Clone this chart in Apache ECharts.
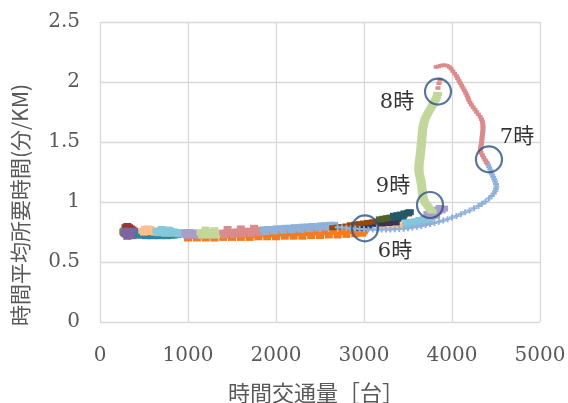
<!DOCTYPE html>
<html><head><meta charset="utf-8">
<script src="https://cdn.jsdelivr.net/npm/echarts@6/dist/echarts.min.js"></script>
<style>html,body{margin:0;padding:0;background:#fff}#c{width:568px;height:403px}</style>
</head><body><div id="c"></div>
<script>
// ---- tick settings ----
const xTicks = {min: 0, max: 5000, interval: 1000};
const yTicks = {min: 0, max: 2.5, interval: 0.5};
const xTitle = '時間交通量［台］';
const yTitle = '時間平均所要時間(分/KM)';

// ---- series values [traffic volume, travel time] ----
const darkRed = [[290,0.79],[310,0.80],[330,0.79],[350,0.78],[300,0.77],[340,0.76],[370,0.77]];
const olive = [[265,0.75],[280,0.74],[270,0.76],[290,0.73]];
const purple = [[275,0.74],[300,0.73],[325,0.74],[350,0.73],[380,0.74],[410,0.73],[440,0.74],[290,0.76],[340,0.76],[390,0.76],[310,0.71],[370,0.715],[420,0.72]];
const teal = [[440,0.725],[480,0.72],[520,0.715],[560,0.72],[600,0.715],[640,0.72],[680,0.715],[720,0.72],[760,0.715],[800,0.72],[840,0.72],[880,0.725],[910,0.73],[460,0.745],[500,0.74]];
const peach = [[480,0.76],[510,0.775],[540,0.78],[570,0.775],[600,0.765],[630,0.76],[500,0.745],[560,0.75],[620,0.745]];
const cyan = [[640,0.76],[680,0.755],[720,0.76],[760,0.755],[800,0.76],[840,0.755],[880,0.75],[920,0.75],[960,0.745],[660,0.74],[740,0.735],[820,0.735],[900,0.73],[700,0.775],[780,0.77]];
const lavender = [[970,0.745],[1010,0.75],[1050,0.745],[1090,0.745],[1130,0.74],[990,0.72],[1050,0.72],[1110,0.72]];
const orange = [[1000,0.70],[1100,0.70],[1200,0.70],[1300,0.70],[1400,0.705],[1500,0.705],[1600,0.705],[1700,0.705],[1800,0.71],[1900,0.71],[2000,0.71],[2100,0.715],[2200,0.715],[2300,0.715],[2400,0.72],[2500,0.72],[2600,0.725],[2700,0.725],[2800,0.73],[2900,0.735],[2980,0.74],
  [1050,0.72],[1150,0.72],[1250,0.72],[1350,0.725],[1450,0.725],[1550,0.73],[1650,0.73],[1750,0.73],[1850,0.735],[1950,0.735],[2050,0.74],[2150,0.74],[2250,0.745],[2350,0.745],[2450,0.75],[2550,0.75],[2650,0.755],[2750,0.755],[2850,0.76],[2950,0.765],[3000,0.76]];
const lightGreen = [[1140,0.745],[1180,0.75],[1220,0.75],[1260,0.745],[1300,0.745],[1340,0.74],[1380,0.74],[1160,0.72],[1240,0.72],[1320,0.72],[1200,0.77],[1300,0.765]];
const pink = [[1400,0.745],[1450,0.75],[1500,0.75],[1550,0.755],[1600,0.755],[1650,0.76],[1700,0.76],[1750,0.765],[1800,0.765],[1840,0.77],[1420,0.72],[1520,0.725],[1620,0.73],[1720,0.735],[1820,0.74],[1450,0.775],[1600,0.78],[1750,0.785]];
const lightBlueBand = [[1860,0.77],[1910,0.775],[1960,0.775],[2010,0.78],[2060,0.78],[2110,0.785],[2160,0.785],[2210,0.79],[2260,0.79],[2310,0.795],[2360,0.795],[2410,0.80],[2460,0.80],[2510,0.805],[2560,0.805],[2610,0.81],[2660,0.81],[1880,0.75],[1980,0.755],[2080,0.76],[2180,0.765],[2280,0.77],[2380,0.775],[2480,0.78],[2580,0.785],[2680,0.79]];
const lightBlueRise = [[2700,0.79],[2750,0.788],[2800,0.785],[2850,0.782],[2900,0.78],[2950,0.775],[3000,0.772],[3050,0.77],[3100,0.77],[3150,0.77],[3200,0.77],[3250,0.77],[3300,0.77],[3350,0.772],[3400,0.775],[3450,0.778],[3500,0.782],[3550,0.787],[3600,0.793],[3650,0.80],[3700,0.808],[3750,0.817],[3800,0.826],[3850,0.835],[3900,0.845],[3950,0.857],[4000,0.87],[4050,0.884],[4100,0.898],[4150,0.914],[4200,0.93],[4250,0.948],[4300,0.967],[4340,0.985],[4380,1.005],[4420,1.03],[4450,1.05],[4475,1.07],[4492,1.09],[4500,1.11],[4505,1.13],[4500,1.15],[4490,1.17],[4480,1.19],[4468,1.21],[4455,1.23],[4445,1.25],[4435,1.27],[4422,1.29],[4410,1.31],[4398,1.33]];
const brown = [[2650,0.785],[2700,0.79],[2750,0.795],[2800,0.80],[2850,0.81],[2900,0.815],[2950,0.82],[3000,0.825],[3050,0.83],[3100,0.835],[3150,0.84],[3200,0.85],[3250,0.855],[3300,0.865],[3350,0.87],[3400,0.88],[3450,0.89],[3500,0.90]];
const darkNavy = [[2900,0.80],[2950,0.805],[3000,0.81],[3050,0.81],[3100,0.815],[3150,0.82],[2950,0.785],[3050,0.79]];
const peach2 = [[3180,0.79],[3240,0.795],[3300,0.80],[3360,0.80],[3420,0.805],[3480,0.81]];
const darkPurple = [[3180,0.84],[3220,0.845],[3260,0.85],[3300,0.855],[3340,0.86],[3380,0.86],[3200,0.82],[3280,0.825],[3360,0.83]];
const darkGreen = [[3180,0.855],[3220,0.86],[3260,0.865],[3300,0.87]];
const darkTeal = [[3340,0.885],[3380,0.89],[3420,0.895],[3460,0.905],[3500,0.91],[3520,0.915],[3360,0.87],[3440,0.875]];
const cyan2 = [[3480,0.83],[3530,0.835],[3580,0.84],[3630,0.85],[3680,0.86],[3720,0.87],[3770,0.875],[3500,0.805],[3580,0.81],[3660,0.82],[3740,0.835]];
const lavender2 = [[3720,0.90],[3760,0.905],[3800,0.91],[3840,0.92],[3880,0.93],[3910,0.945],[3740,0.88],[3820,0.885],[3780,0.935],[3860,0.95]];
const pinkPeak = [[4390,1.33],[4375,1.35],[4360,1.37],[4345,1.39],[4330,1.41],[4322,1.43],[4325,1.45],[4330,1.47],[4335,1.49],[4338,1.51],[4341,1.53],[4344,1.55],[4347,1.57],[4350,1.59],[4352,1.61],[4352,1.63],[4350,1.65],[4345,1.67],[4335,1.69],[4320,1.71],[4300,1.73],[4280,1.75],[4260,1.77],[4240,1.79],[4220,1.81],[4205,1.83],[4190,1.85],[4180,1.87],[4170,1.89],[4155,1.91],[4140,1.93],[4125,1.95],[4110,1.97],[4095,1.99],[4080,2.01],[4065,2.03],[4050,2.05],[4030,2.07],[4010,2.09],[3990,2.11],[3970,2.125],[3945,2.135],[3920,2.14],[3895,2.14],[3870,2.135],[3845,2.13],[3820,2.125],[3864,2.02],[3852,1.99],[3841,1.95]];
const greenDrop = [[3835,1.90],[3825,1.87],[3810,1.85],[3795,1.83],[3780,1.81],[3765,1.79],[3750,1.77],[3735,1.75],[3720,1.73],[3705,1.71],[3693,1.69],[3685,1.67],[3678,1.65],[3672,1.63],[3668,1.61],[3665,1.59],[3662,1.57],[3660,1.55],[3658,1.53],[3655,1.51],[3652,1.49],[3650,1.47],[3648,1.45],[3645,1.43],[3642,1.41],[3638,1.39],[3635,1.37],[3632,1.35],[3628,1.33],[3625,1.31],[3624,1.29],[3624,1.27],[3625,1.25],[3630,1.23],[3636,1.21],[3642,1.19],[3648,1.17],[3652,1.15],[3656,1.13],[3659,1.11],[3662,1.09],[3665,1.07],[3668,1.05],[3675,1.03],[3685,1.01],[3700,0.99],[3715,0.975],[3730,0.96],[3745,0.945],[3760,0.93],[3775,0.92]];

// ---- annotations ----
const circleNames = ['6時','7時','8時','9時'];
const circlePos = [[3011,0.78],[4420,1.355],[3841,1.92],[3750,0.975]];
const labelPos = [[3352,0.583],[4739,1.54],[3375,1.83],[3330,1.125]];

const sq = 'rect';
const plus = 'path://M2,0H4V2H6V4H4V6H2V4H0V2H2Z';
function s(name, data, color, size, symbol){
  return {name, type:'scatter', data, symbol: symbol || sq, symbolSize: size || [8,6],
    itemStyle:{color, opacity:1}, silent:true, animation:false};
}
const series = [
  s('darkRed', darkRed, '#953735'),
  s('olive', olive, '#77933C'),
  s('purple', purple, '#7F649F'),
  s('orange', orange, '#F47C20', [8,7]),
  s('teal', teal, '#31859C'),
  s('peach', peach, '#FAC090'),
  s('cyan', cyan, '#86C7DA'),
  s('lavender', lavender, '#AA9CCB'),
  s('lightGreen', lightGreen, '#C3D69B'),
  s('pink', pink, '#D98C8B'),
  s('lightBlueBand', lightBlueBand, '#8FB0DA'),
  s('darkNavy', darkNavy, '#1F3864'),
  s('brown', brown, '#984807', [8,5]),
  s('peach2', peach2, '#FAC090'),
  s('darkPurple', darkPurple, '#403152'),
  s('darkGreen', darkGreen, '#4F6228'),
  s('darkTeal', darkTeal, '#215968'),
  s('cyan2', cyan2, '#86C7DA'),
  s('lavender2', lavender2, '#AA9CCB'),
  s('lightBlueRise', lightBlueRise, '#8FB0DA', 6, plus),
  s('pinkPeak', pinkPeak, '#D98C8B', [5,3.5]),
  s('greenDrop', greenDrop, '#C3D69B', [9,4]),
  {name:'circles', type:'scatter', data: circlePos, symbol:'circle', symbolSize:26, z:5,
    itemStyle:{color:'rgba(0,0,0,0)', borderColor:'#2E5283', borderWidth:2.2}, silent:true, animation:false},
  {name:'labels', type:'scatter', data: labelPos.map((p,i)=>({value:p, name:circleNames[i]})), symbolSize:0, z:6,
    label:{show:true, position:'inside', formatter:'{b}', color:'#000', fontSize:21,
      fontFamily:'"DejaVu Serif", "Noto Sans CJK JP", serif'}, silent:true, animation:false}
];

const chart = echarts.init(document.getElementById('c'), null, {renderer:'canvas'});
const axisFont = '"DejaVu Serif", "Liberation Serif", serif';
const titleFont = '"Noto Sans CJK JP", sans-serif';
chart.setOption({
  animation:false,
  grid:{left:100, right:28, top:22, bottom:81, containLabel:false, outerBoundsMode:'none'},
  graphic:[{type:'text', x:20, y:326, rotation:Math.PI/2, silent:true,
    style:{text:yTitle, fill:'#595959', font:'21px ' + titleFont, align:'left', verticalAlign:'middle'}},
    {type:'text', x:316, y:393, silent:true,
    style:{text:xTitle, fill:'#595959', font:'22px ' + titleFont, align:'center', verticalAlign:'middle'}}],
  xAxis:{type:'value', min:xTicks.min, max:xTicks.max, interval:xTicks.interval,
    axisLine:{show:false}, axisTick:{show:false},
    splitLine:{show:true, lineStyle:{color:'#D9D9D9', width:1.3}},
    axisLabel:{color:'#595959', fontSize:20, fontFamily:axisFont, margin:24, formatter:(v)=>String(v)}},
  yAxis:{type:'value', min:yTicks.min, max:yTicks.max, interval:yTicks.interval,
    axisLine:{show:false}, axisTick:{show:false},
    splitLine:{show:true, lineStyle:{color:'#D9D9D9', width:1.3}},
    axisLabel:{color:'#595959', fontSize:20, fontFamily:axisFont, margin:20, formatter:(v)=>String(v)}},
  series
});
</script></body></html>
